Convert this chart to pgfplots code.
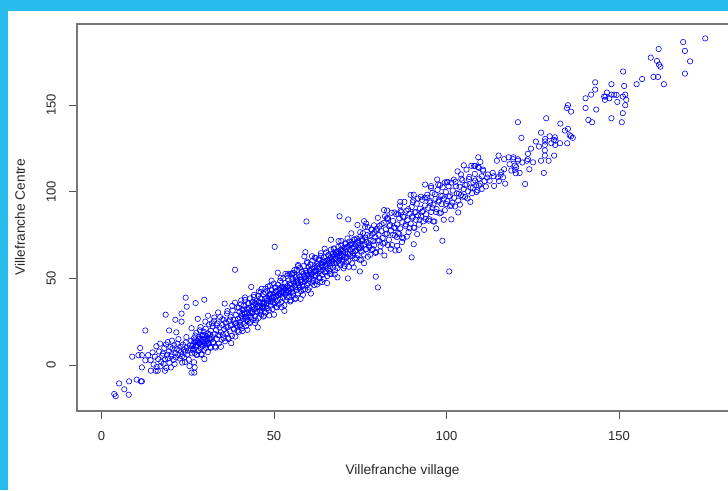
\documentclass[border=0pt]{standalone}
\usepackage{pgfplots}
\usepackage{fontspec}
\setmainfont{Liberation Sans}
\pgfplotsset{compat=1.18}
\definecolor{skyband}{RGB}{38,188,236}
\definecolor{framegray}{RGB}{120,120,120}
\definecolor{txt}{RGB}{40,40,40}
\begin{document}
\begin{tikzpicture}[x=1pt,y=1pt]
\useasboundingbox (0,0) rectangle (728,490);
\clip (0,0) rectangle (728,490);
\fill[white] (0,0) rectangle (728,490);
\fill[skyband] (0,0) rectangle (8,490);
\fill[skyband] (0,479) rectangle (728,490);
\begin{axis}[
  at={(77pt,79pt)}, anchor=south west,
  scale only axis, width=663pt, height=387pt,
  xmin=-7.1, xmax=185.07, ymin=-26.3, ymax=196.7,
  axis line style={framegray,line width=1.1pt},
  xtick={0,50,100,150}, ytick={0,50,100,150},
  xtick pos=bottom, ytick pos=left, tick align=outside,
  major tick length=8pt,
  tick style={txt!80!white,line width=0.8pt},
  /pgf/number format/assume math mode=true,
  tick label style={font=\fontsize{13}{15}\selectfont,text=txt},
  xticklabel style={inner sep=0pt,yshift=-12pt},
  yticklabel style={rotate=90,anchor=south,inner sep=0pt,yshift=13pt},
  every axis x label/.style={at={(axis description cs:0.491,-0.155)},anchor=center,font=\fontsize{13.7}{15}\selectfont,text=txt},
  every axis y label/.style={at={(axis description cs:-0.086,0.501)},rotate=90,anchor=center,font=\fontsize{13.7}{15}\selectfont,text=txt},
  xlabel={Villefranche village}, ylabel={Villefranche Centre},
  clip=true
]
\addplot[only marks,mark=o,mark size=2.7pt,mark options={blue,line width=0.6pt}] coordinates {
(175,188.4)(168.6,186.3)(169.1,181.2)(170.6,175.2)(169.1,168.1)(161.5,182.3)(159.2,177.3)(161,175.4)(161.6,173.3)(162,172.1)
(160,166.2)(161.3,166.2)(163,162)(156.7,165)(155.1,162)(151.2,169.3)(147.8,162)(151.5,161)(143.1,163.1)(143.1,158.9)
(141.9,156)(140.3,153.9)(146.5,157.2)(145.7,154.9)(146.1,154.9)(145.9,153)(147.2,153.9)(147.8,156)(148.6,156)(149.3,155.8)
(151.8,156)(151.1,154.9)(152.1,153)(149.5,151.8)(151.8,149.9)(151.1,145.3)(150.8,140.1)(147.8,142.4)(143.4,147.4)(140.3,148.3)
(135.2,149.9)(134.9,148.3)(136.1,146.2)(141.1,141.4)(142.2,140.1)(128.9,142.4)(120.7,140.1)(133,139.3)(127.4,134.1)(135.2,136.3)
(134.3,135.3)(135.7,132.6)(136.1,132)(136.6,131.1)(121.7,131.1)(129.9,132)(128.6,130.5)(128.6,129)(125.9,129)(131.4,131.4)
(131.1,129.9)(131.6,129.5)(131.5,127)(130.4,128)(132.9,128)(135,128)(124.5,124.9)(126.8,126.1)(128.5,127)(128.5,123.9)
(123.6,121.9)(128.5,120.9)(131.2,120.9)(127.4,117.9)(129.6,117.9)(123.6,118.8)(125.1,117)(123.3,117.9)(124,113)(128.2,110.9)
(115.1,120.9)(114.6,117.9)(116.7,118.8)(118,119.9)(119.4,119.9)(119.3,118.8)(120.7,118.8)(120.7,117.9)(122,116.9)(118.3,115.9)
(119.8,115.1)(120.2,114.2)(119.8,112.7)(118.8,112.3)(120.1,110.7)(116.7,113)(115.9,111.3)(115.7,109.8)(113.4,110.9)(112,110)
(113.7,109)(114.9,108.4)(116.4,108.4)(113.8,103.4)(115.2,106.2)(117,104.7)(121.2,110.9)(122.8,104.5)
(59.4,82.9)(69,85.9)(71.5,84.1)(76.1,83.1)(76.7,81.7)(82.8,89.2)(82.2,85.9)(83,85)(86.6,94.2)(86.5,92.1)(90.5,98.3)(90.2,94)
(93.8,104.2)(97.6,104.2)(95.5,102.3)(100.1,105.5)(104.2,110)(108.3,115)(109.2,119.9)(109.4,113.8)(103.4,88.1)(101.4,84.1)
(97,78.9)(98.8,71.8)(100.8,54.1)(90.5,69.8)(89.9,62.2)(82,63.3)(85.2,66.2)(85.7,68.9)(86.2,66.5)(87.1,71)(79.5,51.1)(80.1,44.9)
(71.4,50.1)(74.9,54.1)(59.1,65.2)(57,57.2)(55.3,53.1)
(50.2,68.3)(38.7,55.1)(24.4,39)(29.8,37.8)(27.3,35.9)(24.7,33.8)(18.6,29.2)(23.2,29.8)(21.4,26.3)(23.2,25.2)(12.7,20.1)(19.6,20.1)(21.7,19)
(11.2,10)(8.9,5)(10.7,5.9)(11.7,5.9)(13.5,5.9)(12.7,2.9)(11.7,-1.2)(14.3,-3.1)(15.7,-3.1)(16.3,-3.1)(18.4,-3.1)(20.1,-1.2)
(26.1,-4.2)(26.9,-4.2)(27,-1.2)(24.2,1.9)(5.1,-10.4)(8,-9.2)(10.2,-8.2)(11.4,-9.2)(11.7,-9.2)(6.6,-13.8)(7.9,-16.9)(3.7,-16.5)(4.1,-17.8)
(14.2,3)(14.8,7.5)(15.1,0.5)(15.5,5)(15.9,11)(16,-1)(16.4,3.6)(16.7,8)(17,12.5)(17.1,-0.5)(17.3,2)(17.6,5.5)(17.8,6.8)(18,1)(18.2,10)(18.4,3.5)(18.7,12)(18.8,-1.5)(19,6.2)(19.3,4)(19.5,8)(19.7,1.5)(20,10.5)(20.2,5)
(20.3,6.4)(20.6,9.8)(20.9,3.2)(21.1,11.5)(21.4,7.1)(21.6,4.6)(21.8,9.2)(22,12.4)(22.2,6)(22.5,8.7)(22.7,3.9)(22.9,10.8)(23.1,7.6)(23.3,5.2)(23.6,11.9)(23.8,9)(24,4.4)(24.2,7.9)(24.4,13.1)(24.7,10.2)(24.9,6.3)(25.1,8.5)(25.3,3.3)(25.6,11.3)(25.8,9.6)(26,14.2)(26.2,6.9)
(26.5,12.1)(26.7,9.3)(26.8,15.6)(27,7.2)(27.2,13.4)(27.3,10.6)(27.5,18.8)(27.6,5.9)(27.8,14.1)(27.9,11.7)(28.1,8.2)(28.2,16.5)(28.4,12.9)(28.5,20.2)(28.7,9.8)(28.8,14.7)(29,6.6)(29.1,17.2)(29.3,11.2)(29.4,13.6)(29.6,19.4)(29.7,8.9)(29.9,15.3)(30,12.4)(30.2,21.1)(30.3,10.1)(30.5,16.8)(30.6,14)(30.8,7.7)(30.9,18.3)(31.1,12.8)(31.2,23.6)(31.4,15.7)(31.5,10.6)(31.7,19.9)
(32,16.4)(32.2,22.4)(32.4,13.2)(32.6,25.7)(32.8,18.1)(33,10.9)(33.2,20.3)(33.4,15.2)(33.6,24.1)(33.8,17.4)(34,12.6)(34.2,21.9)(34.4,27.8)(34.6,19)(34.8,14.8)(35,23.2)(35.2,17.7)(35.4,26.3)(35.6,20.8)(35.8,13.9)(36,24.6)(36.2,18.5)(36.4,29.9)(36.6,22)(36.8,15.9)(37,25.4)(37.2,19.6)(37.4,28)(37.6,23.1)(37.8,17)(38,31.6)(38.2,26.2)(38.4,20.7)(38.6,24.2)(38.8,16.6)(39,29.1)(39.2,22.8)(39.4,33.4)(39.6,26.9)(39.8,19.3)
(40,30.8)(40.1,25)(40.3,23.3)(40.4,35.2)(40.6,28.4)(40.7,21.4)(40.9,31.9)(41,26.8)(41.2,34.3)(41.3,24.1)(41.5,29.6)(41.6,37.7)(41.8,27.4)(41.9,22.6)(42.1,32.7)(42.2,30.2)(42.4,25.7)(42.5,35.9)(42.7,28.9)(42.8,33.3)(43,24.3)(43.1,38.6)(43.3,31.3)(43.4,27.9)(43.6,36.4)(43.7,30)(43.9,26.1)(44,34.5)(44.2,39.4)(44.3,32.2)(44.5,28.3)(44.6,35.1)(44.8,25.9)(44.9,37.2)(45.1,33.6)(45.2,30.7)(45.4,40.1)(45.5,27.3)(45.7,36.8)(45.8,34)(46,31.5)(46.1,42.3)(46.3,29.2)(46.4,38.4)(46.6,35.5)(46.7,32.8)(46.9,28.1)(47,41)(47.2,36.2)(47.3,33.9)(47.5,44.2)(47.6,30.4)(47.8,38.9)(47.9,35.7)(48.1,42.9)(48.2,33)(48.4,37.4)(48.5,31.6)(48.7,40.7)(48.8,45.8)(49,36.7)(49.1,34.4)(49.3,43.6)(49.4,39.1)(49.6,32.4)(49.7,37.9)(49.9,47.1)(50,41.6)
(50.2,35.9)(50.3,44.8)(50.5,39.6)(50.6,33.7)(50.8,42.4)(50.9,37.1)(51.1,46.5)(51.2,40.3)(51.4,35)(51.5,43.9)(51.7,38.3)(51.8,48.7)(52,41.2)(52.1,36.4)(52.3,45.3)(52.4,42.8)(52.6,38.8)(52.7,50.2)(52.9,44.1)(53,34.6)(53.2,40.9)(53.3,47.4)(53.5,43)(53.6,37.6)(53.8,51.6)(53.9,45.7)(54.1,41.9)(54.2,48.9)(54.4,39.4)(54.5,44.6)(54.7,36.8)(54.8,52.7)(55,46.9)(55.1,42.2)(55.3,49.5)(55.4,44.3)(55.6,40.2)(55.7,53.3)(55.9,47.6)(56,38.1)(56.2,45.1)(56.3,50.8)(56.5,43.4)(56.6,54.9)(56.8,48.4)(56.9,41.5)(57.1,46.2)(57.2,51.9)(57.4,44.7)(57.5,56.2)(57.7,49.2)(57.8,42.7)(58,47.9)(58.1,53.8)(58.3,45.6)(58.4,40.6)(58.6,51.2)(58.7,57.4)(58.9,48.2)(59,43.8)(59.2,54.4)(59.3,50.1)(59.5,46.4)(59.6,59.7)(59.8,52.4)(59.9,47.2)(60,56.9)
(60.2,49.8)(60.3,44.9)(60.5,53.1)(60.6,58.2)(60.8,51)(60.9,47.7)(61.1,55.6)(61.2,60.4)(61.4,49.4)(61.5,53.9)(61.7,46.3)(61.8,57.1)(62,51.7)(62.1,61.8)(62.3,54.7)(62.4,48.6)(62.6,58.6)(62.7,52.9)(62.9,56.3)(63,50.6)(63.2,60.9)(63.3,47.8)(63.5,54.1)(63.6,63.1)(63.8,57.8)(63.9,52.1)(64.1,59.4)(64.2,55.2)(64.4,49.9)(64.5,62.3)(64.7,56.7)(64.8,53.5)(65,60.1)(65.1,65.1)(65.3,58.4)(65.4,51.4)(65.6,55.9)(65.7,63.6)(65.9,59.9)(66,54.3)(66.2,61.7)(66.3,57.3)(66.5,66.7)(66.6,52.6)(66.8,60.6)(66.9,64.2)(67.1,56.4)(67.2,62.4)(67.4,58.9)(67.5,67.3)(67.7,54.8)(67.8,61.2)(68,65.4)(68.1,59.2)(68.3,63.2)(68.4,56)(68.6,68.3)(68.7,60.3)(68.9,64.8)(69,61.9)(69.2,57.7)(69.3,66.3)(69.5,69.1)(69.6,62.9)(69.8,59.6)(69.9,65.9)
(70.1,63.7)(70.2,60.8)(70.4,67.8)(70.5,57.2)(70.7,65.2)(70.8,70.1)(71,62.2)(71.2,68.2)(71.4,64.1)(71.6,60.1)(71.8,71.3)(72,66.6)(72.2,63)(72.4,69.4)(72.6,58.8)(72.8,67.2)(73,64.7)(73.2,72.6)(73.4,61.6)(73.6,69.9)(73.8,66.1)(74,73.1)(74.2,63.4)(74.4,70.6)(74.6,67.6)(74.8,60.9)(75,74.3)(75.2,68.8)(75.4,65.6)(75.6,71.7)(75.8,76.2)(76,63.9)(76.2,69.7)(76.4,73.6)(76.6,66.9)(76.8,71.1)(77,75.1)(77.2,62.6)(77.4,70.4)(77.6,68.1)(77.8,74.6)(78,72.1)(78.2,78.1)(78.4,66.4)(78.6,75.8)(78.8,71.6)(79,69.2)(79.2,76.9)(79.4,73.9)(79.6,65.3)(79.8,78.7)
(80,71.9)(80.3,75.3)(80.6,80.4)(80.9,68.6)(81.2,77.3)(81.5,73.3)(81.8,82.1)(82.1,70.7)(82.4,78.4)(82.7,75.9)(83,84.3)(83.3,72.4)(83.6,80.9)(83.9,77.7)(84.2,69.3)(84.5,83.2)(84.8,79.3)(85.1,74.8)(85.4,87.1)(85.7,81.2)(86,76.4)(86.3,84.8)(86.6,78.9)(86.9,88.3)(87.2,82.4)(87.5,73.2)(87.8,85.6)(88.1,80.2)(88.4,89.1)(88.7,83.6)(89,76.8)(89.3,87.4)(89.6,81.7)(89.9,91.2)(90.2,85.1)
(90.5,79.4)(90.8,88.2)(91.1,83.9)(91.4,93.2)(91.7,86.4)(92,81.1)(92.3,90.3)(92.6,85.8)(92.9,95.4)(93.2,88.9)(93.5,78.1)(93.8,92.1)(94.1,87.1)(94.4,96.6)(94.7,90.8)(95,84.2)(95.3,93.8)(95.6,88.4)(95.9,99.4)(96.2,92.6)(96.5,82.9)(96.8,95.9)(97.1,90.1)(97.4,101.1)(97.7,94.3)(98,87.6)(98.3,97.8)(98.6,92.9)(98.9,102.6)(99.2,96.1)(99.5,89.4)(99.8,99.9)
(100.2,94.7)(100.6,103.2)(101,97.4)(101.4,92.1)(101.8,100.7)(102.2,96.6)(102.6,105.8)(103,99.1)(103.4,94.9)(103.8,102.9)(104.2,98.2)(104.6,106.7)(105,101.6)(105.4,97.1)(105.8,104.1)(106.2,100.3)(106.6,108.6)(107,102.4)(107.4,99.2)(107.8,105.4)(108.2,110.3)(108.6,103.8)(109,100.9)(109.4,107.6)(109.8,104.7)(110.2,108.9)(110.6,112.1)(111,106.2)(111.4,103.1)(111.8,108.2)(112.5,106.4)
(19.2,13.4)(20.4,14.2)(21.2,0.8)(22.3,15.1)(23.4,1.6)(24.6,16.3)(25.5,-0.4)
(26.1,21.4)(26.5,8.6)(26.8,1.8)(27.2,17.2)(27.6,6.3)(27.9,26.8)(28.3,13)(28.7,22.1)(29,6.1)(29.4,17.5)(29.8,3.6)(30.1,25.2)(30.5,12.1)(30.9,28.6)(31.2,15.5)(31.6,10.1)(32,24.2)(32.3,13.3)(32.7,27.6)(33.1,10.2)(33.4,23)
(33.8,30.5)(34.2,17.3)(34.6,10.7)(35,26.6)(35.4,15.6)(35.7,35.6)(36.1,22.2)(36.5,31.3)(36.8,15.3)(37.2,26.4)(37.6,12.8)(37.9,34.3)(38.3,21.2)(38.7,36.1)(39,24.3)(39.4,20)(39.8,33.2)(40.1,22.9)(40.5,37.4)(40.9,19.8)(41.2,32.1)
(41.6,39.1)(42,26)(42.3,20.4)(42.7,35.7)(43.1,25.1)(43.4,45.2)(43.8,30.9)(44.2,40.6)(44.5,24.4)(44.9,35.3)(45.3,21.9)(45.6,42.6)(46,31)(46.4,44.1)(46.7,34.1)(47.1,28.6)(47.5,42.1)(47.8,32.6)(48.2,45.4)(48.6,28.8)(48.9,41.2)
(49.3,48.8)(49.7,36.1)(50,29.2)(50.4,45)(50.8,33.4)(51.1,53.4)(51.5,41.4)(51.9,50.4)(52.2,33.5)(52.6,44.9)(53,31.4)(53.3,52.7)(53.7,39.4)(54.1,52.8)(54.4,42.9)(54.8,37.5)(55.2,52.5)(55.5,41.5)(55.9,54.9)(56.3,38.6)(56.6,51.3)
(57,57.9)(57.4,45.2)(57.7,38.3)(58.1,54.2)(58.5,43.7)(58.8,62.8)(59.2,49.5)(59.6,59)(59.9,43.4)(60.3,54.9)(60.7,41.4)(61,62.9)(61.4,48.6)(61.8,62.1)(62.1,51.9)(62.5,46.6)(62.9,61)(63.2,50.3)(63.6,64.6)(64,48)(64.3,60.4)
(64.7,67.2)(65.1,54.3)(65.4,47.4)(65.8,63.4)(66.2,52.8)(66.5,72.4)(66.9,58.6)(67.3,67.3)(67.6,52.4)(68,64.4)(68.4,50.7)(68.7,71.6)(69.1,58.7)(69.5,71.6)(69.8,61)(70.2,55.9)(70.6,70.3)(70.9,59.3)(71.3,73.1)(71.7,56.8)(72,69.5)
(72.4,76.1)(72.8,63.2)(73.1,56.5)(73.5,72.4)(73.9,61.8)(74.2,80.9)(74.6,67.6)(75,76.7)(75.3,60.8)(75.7,72.2)(76.1,58.9)(76.4,79.8)(76.8,67)(77.2,79.6)(77.5,69.1)(77.9,63.7)(78.3,78.3)(78.6,67.1)(79,80.7)(79.4,64.8)(79.7,77.6)
(80.1,85)(80.5,71.9)(80.8,65.6)(81.2,81.3)(81.6,70.2)(81.9,89.5)(82.3,75.6)(82.7,84.7)(83,69.3)(83.4,80.2)(83.8,67.2)(84.1,87.9)(84.5,75.2)(84.9,88.1)(85.2,79.3)(85.6,73.9)(86,87.1)(86.3,75.7)(86.7,89.1)(87.1,73.7)(87.4,85.6)
(87.8,94.2)(88.2,81.2)(88.5,74.2)(88.9,90)(89.3,79)(89.6,98.2)(90,85.8)(90.4,95)(90.7,79.2)(91.1,88.3)(91.5,75.6)(91.8,96.2)(92.2,84)(92.6,97.2)(92.9,88.6)(93.3,83)(93.7,96.6)(94,84.3)(94.4,98.3)(94.8,83.4)(95.1,94.8)
(95.5,103.3)(95.9,90.7)(96.2,82.9)(96.6,98.6)(97,88.3)(97.3,107.1)(97.7,95)(98.1,103.9)(98.4,88)(98.8,97.6)(99.2,83.9)(99.5,105.4)(99.9,93)(100.3,105.7)(100.6,97.4)(101,91.7)(101.4,105.3)(101.7,93.7)(102.1,107)(102.5,91.6)(102.8,103.2)
(103.2,111.8)(103.6,99)(103.9,92.6)(104.3,107.6)(104.7,97.2)(105,115.3)(105.4,103.9)(105.8,112.8)(106.1,96.2)(106.5,107.4)(106.9,94.2)(107.2,115)(107.6,102.2)(108,114.9)(108.3,106.5)(108.7,99.9)(109.1,114.3)(109.4,103.6)(109.8,117.2)(110.2,101.6)(110.6,112.8)
(40.2,27.1)(40.8,29.9)(41.4,30.4)(42,28)(42.6,32.1)(43.2,30.1)(43.8,33.7)(44.4,35.9)(45,31.2)(45.5,36.3)(46,38.6)(46.5,33.3)(47,35.1)(47.5,38.1)(48,37.2)(48.5,39.8)(49,41)(49.5,37.2)(50,39.4)(50.5,42.7)(51,40.6)(51.5,41.3)(52,44.8)(52.5,42)(53,45.2)(53.5,41.8)(54,43.6)(54.5,47.1)(55,44.2)(55.5,48.4)(56,46)(56.5,49.4)(57,47.4)(57.5,50.9)(58,49.2)(58.5,52.8)(59,50.7)(59.5,53.3)(60,51.4)(60.5,54.6)(61,52.6)(61.5,56.3)(62,54.4)(62.5,57.2)(63,55.4)(63.5,58.9)(64,56.9)(64.5,59.8)(65,57.2)(65.5,60.6)(66,59.1)(66.5,62.4)(67,60)(67.5,63.8)(68,61.6)(68.5,65.6)(69,63.1)(69.5,66.8)(70,65.1)(70.5,62.3)(71,66.9)(71.5,68.4)(72,64.3)(72.5,70.2)(73,68.1)(73.5,66)(74,71.1)(74.5,69.2)(75,67.4)(75.5,72.9)
(26.3,11.2)(26.9,13.7)(27.4,11.4)(27.9,13.1)(28.4,15.3)(28.9,12.1)(29.4,14.8)(29.9,17.3)(30.4,15.1)(30.9,12.3)(31.4,17.8)(31.9,15)
};
\end{axis}
\end{tikzpicture}
\end{document}
